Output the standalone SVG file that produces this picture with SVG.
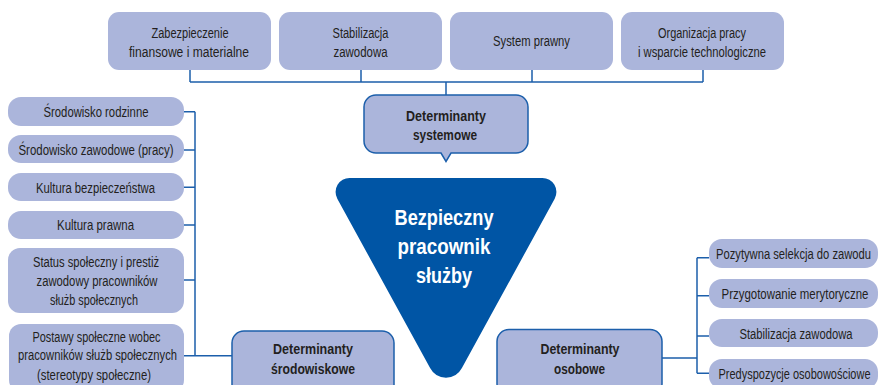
<svg xmlns="http://www.w3.org/2000/svg" width="881" height="385" viewBox="0 0 881 385">
<style>
.box{fill:#abb5db}
.det{fill:#abb5db;stroke:#1c5fab;stroke-width:1.5}
.ln{fill:none;stroke:#1c5fab;stroke-width:1.5}
text{font-family:"Liberation Sans",Arial,sans-serif;fill:#231f20;text-anchor:middle}
.t{font-size:14px}
.b{font-size:15px;font-weight:bold}
.big{font-size:22px;font-weight:bold;fill:#ffffff}
</style>
<rect width="881" height="385" fill="#ffffff"/>
<g id="connectors">
<path class="ln" d="M190,70 V82 M361,70 V82 M532,70 V82 M703,70 V82 M190,82 H703 M446,82 V95"/>
<path class="ln" d="M184,111.7 H195 M184,150 H195 M184,187.3 H195 M184,225 H195 M184,280 H195 M184,355.7 H232 M195,111.7 V355.7"/>
<path class="ln" d="M662,358 H697 M697,257.7 V373.3 M697,257.7 H709 M697,295.7 H709 M697,336 H709 M697,373.3 H709"/>
</g>
<g id="top1"><rect class="box" x="108" y="12" width="163" height="58" rx="11"/>
<text class="t" x="190" y="37.5" textLength="77" lengthAdjust="spacingAndGlyphs">Zabezpieczenie</text>
<text class="t" x="189" y="56.5" textLength="120" lengthAdjust="spacingAndGlyphs">finansowe  i  materialne</text></g>
<g id="top2"><rect class="box" x="279" y="12" width="163" height="58" rx="11"/>
<text class="t" x="360.5" y="37.5" textLength="56" lengthAdjust="spacingAndGlyphs">Stabilizacja</text>
<text class="t" x="360.5" y="56.5" textLength="54" lengthAdjust="spacingAndGlyphs">zawodowa</text></g>
<g id="top3"><rect class="box" x="450" y="12" width="163" height="58" rx="11"/>
<text class="t" x="531.5" y="45.5" textLength="77" lengthAdjust="spacingAndGlyphs">System prawny</text></g>
<g id="top4"><rect class="box" x="621" y="12" width="163" height="58" rx="11"/>
<text class="t" x="702" y="37.5" textLength="88" lengthAdjust="spacingAndGlyphs">Organizacja pracy</text>
<text class="t" x="702" y="56.5" textLength="128" lengthAdjust="spacingAndGlyphs">i wsparcie technologiczne</text></g>
<g id="systemowe"><path class="det" d="M376,95 H516 A12,12 0 0 1 528,107 V141 A12,12 0 0 1 516,153 H451 L446,161.5 L441,153 H376 A12,12 0 0 1 364,141 V107 A12,12 0 0 1 376,95 Z"/>
<text class="b" x="446" y="120.5" textLength="80" lengthAdjust="spacingAndGlyphs">Determinanty</text>
<text class="b" x="445" y="139.5" textLength="64" lengthAdjust="spacingAndGlyphs">systemowe</text></g>
<g id="center"><path fill="#0055a5" d="M349.6,178 L542.4,178 A14,14 0 0 1 554.7,198.7 L461.9,368.1 A18,18 0 0 1 430.1,368.1 L337.3,198.7 A14,14 0 0 1 349.6,178 Z"/>
<text class="big" x="444" y="225" textLength="99" lengthAdjust="spacingAndGlyphs">Bezpieczny</text>
<text class="big" x="444" y="254" textLength="93" lengthAdjust="spacingAndGlyphs">pracownik</text>
<text class="big" x="444" y="283" textLength="56" lengthAdjust="spacingAndGlyphs">służby</text></g>
<g id="l1"><rect class="box" x="8" y="97" width="176" height="29" rx="13"/>
<text class="t" x="96" y="116.5" textLength="105" lengthAdjust="spacingAndGlyphs">Środowisko rodzinne</text></g>
<g id="l2"><rect class="box" x="8" y="135" width="176" height="28" rx="13"/>
<text class="t" x="96" y="154.5" textLength="155" lengthAdjust="spacingAndGlyphs">Środowisko zawodowe (pracy)</text></g>
<g id="l3"><rect class="box" x="8" y="173" width="176" height="28" rx="13"/>
<text class="t" x="95.5" y="192.5" textLength="119" lengthAdjust="spacingAndGlyphs">Kultura bezpieczeństwa</text></g>
<g id="l4"><rect class="box" x="8" y="211" width="176" height="28" rx="13"/>
<text class="t" x="95.5" y="230" textLength="77" lengthAdjust="spacingAndGlyphs">Kultura prawna</text></g>
<g id="l5"><rect class="box" x="8" y="248" width="176" height="65" rx="12"/>
<text class="t" x="96" y="266.5" textLength="126" lengthAdjust="spacingAndGlyphs">Status społeczny i prestiż</text>
<text class="t" x="97" y="286" textLength="121" lengthAdjust="spacingAndGlyphs">zawodowy pracowników</text>
<text class="t" x="94" y="305" textLength="88" lengthAdjust="spacingAndGlyphs">służb społecznych</text></g>
<g id="l6"><rect class="box" x="9" y="324" width="175" height="68" rx="12"/>
<text class="t" x="96.5" y="341.5" textLength="128" lengthAdjust="spacingAndGlyphs">Postawy społeczne wobec</text>
<text class="t" x="97.5" y="360" textLength="159" lengthAdjust="spacingAndGlyphs">pracowników służb społecznych</text>
<text class="t" x="94" y="380" textLength="114" lengthAdjust="spacingAndGlyphs">(stereotypy  społeczne)</text></g>
<g id="srodowiskowe"><rect class="det" x="232" y="331" width="162" height="66" rx="12"/>
<text class="b" x="313" y="353.5" textLength="80" lengthAdjust="spacingAndGlyphs">Determinanty</text>
<text class="b" x="313" y="373.5" textLength="84" lengthAdjust="spacingAndGlyphs">środowiskowe</text></g>
<g id="osobowe"><rect class="det" x="497" y="329.5" width="165" height="66" rx="12"/>
<text class="b" x="580" y="353.5" textLength="79" lengthAdjust="spacingAndGlyphs">Determinanty</text>
<text class="b" x="579.5" y="373.5" textLength="51" lengthAdjust="spacingAndGlyphs">osobowe</text></g>
<g id="r1"><rect class="box" x="709" y="239" width="169" height="29" rx="13"/>
<text class="t" x="793.5" y="258.5" textLength="155" lengthAdjust="spacingAndGlyphs">Pozytywna selekcja do zawodu</text></g>
<g id="r2"><rect class="box" x="709" y="279" width="169" height="29" rx="13"/>
<text class="t" x="795" y="298.5" textLength="147" lengthAdjust="spacingAndGlyphs">Przygotowanie merytoryczne</text></g>
<g id="r3"><rect class="box" x="709" y="319" width="169" height="28" rx="13"/>
<text class="t" x="796" y="338.5" textLength="113" lengthAdjust="spacingAndGlyphs">Stabilizacja zawodowa</text></g>
<g id="r4"><rect class="box" x="709" y="359" width="169" height="30" rx="13"/>
<text class="t" x="794.5" y="378.5" textLength="152" lengthAdjust="spacingAndGlyphs">Predyspozycje osobowościowe</text></g>
</svg>
